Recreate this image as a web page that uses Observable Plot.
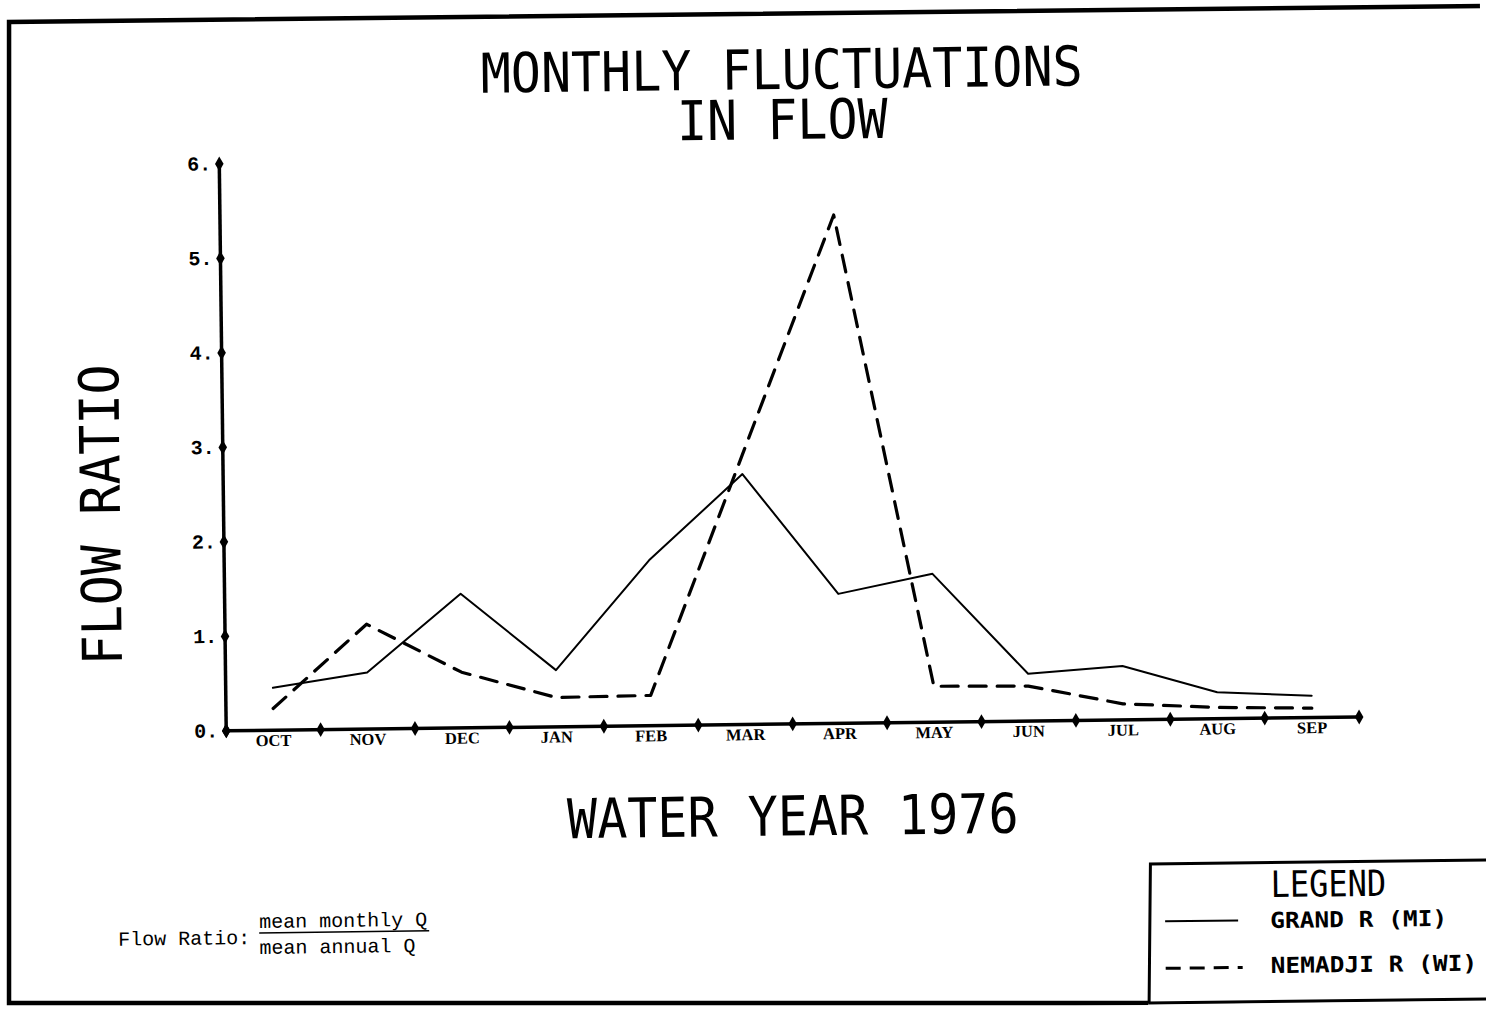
<!DOCTYPE html>
<html><head><meta charset="utf-8">
<script src="https://cdn.jsdelivr.net/npm/d3@7"></script>
<script src="https://cdn.jsdelivr.net/npm/@observablehq/plot@0.6"></script>
<style>
html,body{margin:0;padding:0;background:#fff;overflow:hidden;}
#page{position:relative;width:1486px;height:1010px;transform:rotate(-0.7deg);transform-origin:743px 505px;}
#chart{position:absolute;left:0;top:0;}
#notes{position:absolute;left:0;top:0;}
</style></head><body>
<div id="page">
  <div id="chart"></div>
  <svg id="notes" width="1486" height="1010" xmlns="http://www.w3.org/2000/svg">
    <g font-family="DejaVu Sans Mono" fill="#000">
      <text transform="translate(787,89.5) scale(1,1.1)" text-anchor="middle" font-size="50"><tspan x="0" y="0">MONTHLY FLUCTUATIONS</tspan><tspan x="0" y="45.5">IN FLOW</tspan></text>
      <text transform="translate(120,507) rotate(-90) scale(1,1.1)" text-anchor="middle" font-size="50">FLOW RATIO</text>
      <text transform="translate(789,836) scale(1,1.1)" text-anchor="middle" font-size="50">WATER YEAR 1976</text>
      <text transform="translate(1266,903.5) scale(1,1.13)" font-size="32">LEGEND</text>
      <text transform="translate(1265,934.5) scale(1,0.9)" font-size="24.5" font-weight="bold">GRAND R (MI)</text>
      <text transform="translate(1265,979.5) scale(1,0.9)" font-size="24.5" font-weight="bold">NEMADJI R (WI)</text>
    </g>
    <line x1="1160" y1="926.5" x2="1233" y2="926.5" stroke="#000" stroke-width="2"/>
    <line x1="1160" y1="973.5" x2="1237" y2="973.5" stroke="#000" stroke-width="3" stroke-dasharray="15,9"/>
    <g font-family="Liberation Mono" fill="#000">
      <text x="113" y="938" font-size="20">Flow Ratio:</text>
      <text x="254" y="922" font-size="20">mean monthly Q</text>
      <text x="254" y="948" font-size="20">mean annual Q</text>
    </g>
    <line x1="254" y1="927" x2="424" y2="927" stroke="#000" stroke-width="1.5"/>
    <!-- outer frame -->
    <path d="M1495,15 L15,13 L3,994 L1142,1008" fill="none" stroke="#000" stroke-width="4.5" stroke-linejoin="miter"/>
    <!-- legend box -->
    <path d="M1495,869 L1146,869 L1143,1008" fill="none" stroke="#000" stroke-width="3"/>
    <path d="M1142,1008 L1495,1008" fill="none" stroke="#000" stroke-width="3"/>
  </svg>
</div>
<script>
const months = ["OCT","NOV","DEC","JAN","FEB","MAR","APR","MAY","JUN","JUL","AUG","SEP"];
const grandR = [0.45,0.60,1.42,0.60,1.75,2.65,1.37,1.57,0.50,0.57,0.28,0.23];
const nemadjiR = [0.23,1.11,0.59,0.31,0.32,2.85,5.38,0.38,0.37,0.17,0.12,0.10];
const yTicks = [0,1,2,3,4,5,6];

const idx = d3.range(months.length);
const grandData = idx.map(i => ({x: i + 0.5, y: grandR[i]}));
const nemData = idx.map(i => ({x: i + 0.5, y: nemadjiR[i]}));

const chart = Plot.plot({
  width: 1486, height: 1010,
  marginTop: 157, marginLeft: 223, marginRight: 130, marginBottom: 286,
  x: {domain: [0, 12]},
  y: {domain: [0, 6]},
  style: {background: "transparent", color: "#000"},
  marks: [
    Plot.axisY(yTicks, {tickSize: 0, tickPadding: 8, tickFormat: d => d + ".", fontFamily: "Liberation Mono", fontWeight: "bold", fontSize: 20, label: null}),
    Plot.axisX(idx.map(i => i + 0.5), {tickSize: 0, tickPadding: 4, tickFormat: d => months[Math.floor(d)], fontFamily: "Liberation Serif", fontWeight: "bold", fontSize: 16.5, label: null}),
    Plot.ruleY([0], {x1: 0, x2: 12, strokeWidth: 3.5}),
    Plot.ruleX([0], {y1: 0, y2: 6, strokeWidth: 3.5}),
    Plot.dot(d3.range(13), {x: d => d, y: 0, symbol: "diamond", r: 4.5, fill: "black"}),
    Plot.dot(yTicks, {x: 0, y: d => d, symbol: "diamond", r: 4.5, fill: "black"}),
    Plot.line(grandData, {x: "x", y: "y", strokeWidth: 2}),
    Plot.line(nemData, {x: "x", y: "y", strokeWidth: 3.2, strokeDasharray: "17,11"})
  ]
});
document.getElementById("chart").appendChild(chart);
</script>
</body></html>
